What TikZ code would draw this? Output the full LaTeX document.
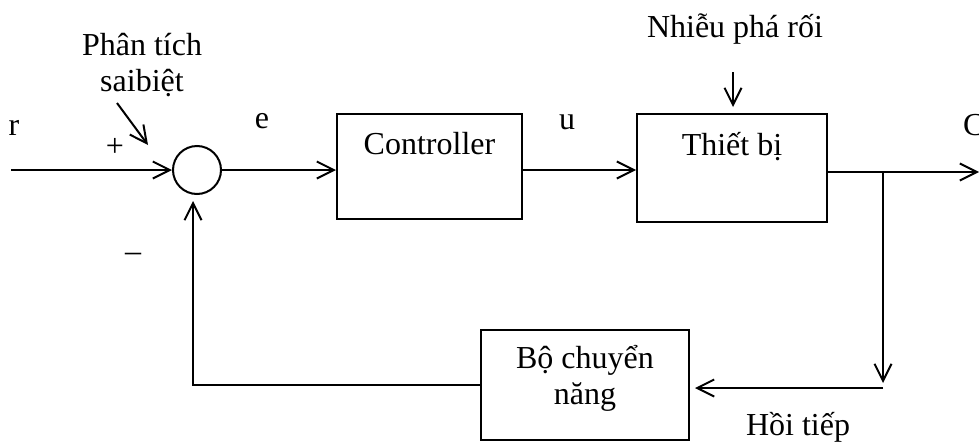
\documentclass[tikz,border=0pt]{standalone}
\usepackage{fontspec}
\setmainfont{Liberation Serif}
\usetikzlibrary{arrows.meta}

\begin{document}
\begin{tikzpicture}[x=1pt, y=-1pt,
    font=\fontsize{32}{36}\selectfont,
    line width=2pt,
    arr/.style={-{Straight Barb[length=17pt, width=17pt, line width=2pt]}},
    block/.style={draw, rectangle, inner sep=0pt, line width=2pt},
    junction/.style={draw, circle, minimum size=48pt, inner sep=0pt, line width=2pt},
    lbl/.style={inner sep=0pt, align=center}]

  % page frame
  \useasboundingbox (0,0) rectangle (979,442);

  % blocks
  \node[junction] (sum) at (197,170) {};
  \node[block, minimum width=185pt, minimum height=105pt,
        text height=40pt, text depth=65pt] (ctrl) at (429.5,166.5) {Controller};
  \node[block, minimum width=190pt, minimum height=108pt,
        text height=41pt, text depth=67pt] (plant) at (732,168) {Thiết bị};
  \node[block, minimum width=208pt, minimum height=110pt] (conv) at (585,385) {};
  \node[lbl] (convtext) at (585,378) {Bộ chuyển\\năng};

  % labels
  \node[lbl, anchor=base] (rlbl) at (14,135) {r};
  \node[lbl] (plus) at (115,147) {+};
  \node[lbl] (minus) at (133,257) {–};
  \node[lbl, anchor=base] (elbl) at (262,128) {e};
  \node[lbl, anchor=base] (ulbl) at (567,129) {u};
  \node[lbl, anchor=base west] (clbl) at (962,135) {C};
  \node[lbl, anchor=base] (noise) at (735,37) {Nhiễu phá rối};
  \node[lbl] (errlbl) at (142,65) {Phân tích\\saibiệt};
  \node[lbl, anchor=base] (fblbl) at (798,435) {Hồi tiếp};

  % free ends and bends
  \coordinate (in) at (11,170);
  \coordinate (split) at (883,172);
  \coordinate (out) at (979,172);
  \coordinate (corner) at (883,388);
  \coordinate (fbc) at (193,385);
  \coordinate (dist) at (733,72);
  \coordinate (annstart) at (117,103);
  \coordinate (annend) at (148,145);

  % forward path
  \draw[arr] (in) -- (sum.west);
  \draw[arr] (sum.east) -- (sum.east -| ctrl.west);
  \draw[arr] (sum.east -| ctrl.east) -- (sum.east -| plant.west);
  \draw[arr] (split -| plant.east) -- (out);

  % disturbance input
  \draw[arr, shorten >=6pt] (dist) -- (dist |- plant.north);

  % error annotation pointer
  \draw[arr] (annstart) -- (annend);

  % feedback path
  \draw[arr, shorten >=5pt] (split) -- (corner);
  \draw[arr, shorten >=5pt] (corner) -- (corner -| conv.east);
  \draw[arr, shorten >=6pt] (conv.west) -- (fbc) -- (fbc |- sum.south);
\end{tikzpicture}
\end{document}
